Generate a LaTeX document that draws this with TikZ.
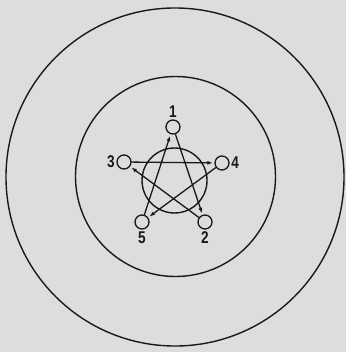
\documentclass[tikz,border=0pt]{standalone}
\usepackage{fontspec}
\newfontfamily\digitfont{Liberation Sans}[FakeStretch=0.8]
\definecolor{paper}{RGB}{221,221,219}
\definecolor{ink}{RGB}{25,25,25}
\usetikzlibrary{arrows.meta}

\begin{document}
\begin{tikzpicture}[
        x=1pt, y=-1pt,
        ring/.style={draw=ink, line width=1.4pt},
        station/.style={circle, draw=ink, line width=1.3pt, fill=paper,
                        minimum size=14pt, inner sep=0pt},
        lab/.style={font=\digitfont\bfseries\fontsize{17}{17}\selectfont,
                    text=ink, inner sep=1pt, label distance=0.5pt},
        arr/.style={-{Latex[length=5.5pt,width=4pt]}, ink, line width=1.3pt,
                    shorten >=1.5pt}
      ]
        \fill[paper] (0,0) rectangle (346,352);
        \useasboundingbox (0,0) rectangle (346,352);
        % rings
        \draw[ring] (175,177) circle[radius=169pt];
        \draw[ring] (175.5,176.5) circle[radius=100pt];
        \draw[ring] (174.5,180.5) circle[radius=32.5pt];
        % stations
        \node[station, label={[lab]above:1}] (n1) at (173,127) {};
        \node[station, label={[lab]below:2}] (n2) at (205,222) {};
        \node[station, label={[lab]left:3}]  (n3) at (124,162) {};
        \node[station, label={[lab]right:4}] (n4) at (222,163) {};
        \node[station, label={[lab]below:5}] (n5) at (142,222) {};
        % links
        \draw[arr] (n1) -- (n2);
        \draw[arr] (n2) -- (n3);
        \draw[arr] (n3) -- (n4);
        \draw[arr] (n4) -- (n5);
        \draw[arr] (n5) -- (n1);
      \end{tikzpicture}
\end{document}
